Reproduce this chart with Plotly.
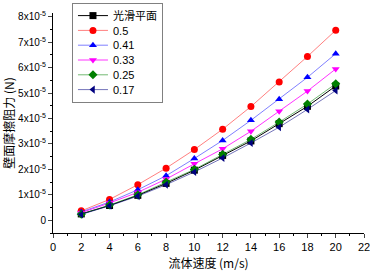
import plotly.graph_objects as go

speed = [2, 4, 6, 8, 10, 12, 14, 16, 18, 20]
# wall friction force, in units of 1e-5 N
smooth = [0.25, 0.58, 0.98, 1.45, 1.97, 2.55, 3.12, 3.80, 4.48, 5.28]
r050 = [0.37, 0.82, 1.40, 2.05, 2.78, 3.58, 4.47, 5.44, 6.44, 7.47]
r041 = [0.33, 0.72, 1.20, 1.75, 2.43, 3.14, 3.93, 4.76, 5.62, 6.55]
r033 = [0.30, 0.68, 1.10, 1.62, 2.22, 2.81, 3.50, 4.29, 5.08, 5.95]
r025 = [0.24, 0.60, 1.00, 1.50, 2.00, 2.59, 3.18, 3.86, 4.57, 5.37]
r017 = [0.23, 0.57, 0.95, 1.40, 1.90, 2.45, 3.04, 3.66, 4.36, 5.10]

names = ["光滑平面", "0.5", "0.41", "0.33", "0.25", "0.17"]
series = [smooth, r050, r041, r033, r025, r017]
marker_colors = ["#000000", "#ff0000", "#0000ff", "#ff00ff", "#008000", "#000080"]
line_colors = ["#000000", "rgba(255,0,0,0.5)", "rgba(0,0,255,0.5)", "rgba(255,0,255,0.8)",
               "rgba(0,128,0,0.55)", "rgba(0,0,128,0.55)"]
symbols = ["square", "circle", "triangle-up", "triangle-down", "diamond", "triangle-left"]

ytick_vals = [0, 1, 2, 3, 4, 5, 6, 7, 8]
ytick_text = ["0"] + [f"{v}x10<sup>-5</sup>" for v in ytick_vals[1:]]
xtick_vals = [0, 2, 4, 6, 8, 10, 12, 14, 16, 18, 20, 22]

fig = go.Figure()
for nm, ys, mc, lc, sym in zip(names, series, marker_colors, line_colors, symbols):
    fig.add_trace(go.Scatter(
        x=speed, y=ys, name=nm, mode="lines+markers",
        line=dict(color=lc, width=1),
        marker=dict(symbol=sym, color=mc, size=7, line=dict(width=0)),
    ))

font_main = "Liberation Sans, Arial, sans-serif"
fig.update_layout(
    width=370, height=271,
    margin=dict(l=53, r=6, t=13, b=38, autoexpand=False),
    paper_bgcolor="white", plot_bgcolor="white",
    font=dict(family=font_main, size=11, color="black"),
    showlegend=True,
    legend=dict(
        x=0.061, y=1.045, xanchor="left", yanchor="top",
        bordercolor="#808080", borderwidth=1, bgcolor="white",
        font=dict(size=11, family="Liberation Sans, Noto Sans CJK SC, sans-serif"),
        itemwidth=30, tracegroupgap=0,
    ),
    xaxis=dict(
        range=[0, 22], tickvals=xtick_vals, ticks="outside", ticklen=4,
        showline=True, linecolor="black", linewidth=1, mirror=False,
        showgrid=False, zeroline=False, automargin=False,
        ticklabeloverflow="allow",
        minor=dict(dtick=1, ticks="outside", ticklen=2, tickcolor="black"),
        title=dict(text="流体速度 (m/s)", font=dict(size=12, family="Noto Sans CJK SC, Liberation Sans"), standoff=9),
        tickfont=dict(size=11),
    ),
    yaxis=dict(
        range=[-0.5, 8.15], tickvals=ytick_vals, ticktext=ytick_text,
        ticks="outside", ticklen=4,
        showline=True, linecolor="black", linewidth=1,
        showgrid=False, zeroline=False, automargin=False,
        minor=dict(dtick=0.5, ticks="outside", ticklen=2, tickcolor="black"),
        title=dict(text="壁面摩擦阻力 (N)", font=dict(size=12, family="Noto Sans CJK SC, Liberation Sans"), standoff=2),
        tickfont=dict(size=10),
    ),
)

post = """
document.body.style.margin='0';document.body.style.overflow='hidden';
var gd=document.getElementById('{plot_id}');
function parseY(t){var m=/translate\\(\\s*([-\\d.]+)[ ,]+([-\\d.]+)/.exec(t.getAttribute('transform')||'');return m?[parseFloat(m[1]),parseFloat(m[2])]:[0,0];}
function fixLegend(){
  var tr=gd.querySelectorAll('g.legend g.traces');
  if(tr.length<2||gd._legendFixed) return;
  var p0=parseY(tr[0]), p1=parseY(tr[1]);
  var d=p1[1]-p0[1], step=14.8, shift=3;
  for(var i=0;i<tr.length;i++){
    var p=parseY(tr[i]);
    tr[i].setAttribute('transform','translate('+p[0]+','+(p0[1]-shift+i*step)+')');
  }
  var bg=gd.querySelector('g.legend rect.bg');
  if(bg){var h=parseFloat(bg.getAttribute('height'));bg.setAttribute('height',h-shift-(tr.length-1)*(d-step)-2);}
  gd._legendFixed=true;
}
fixLegend();
"""
fig.write_html("out.html", post_script=post, config={"displayModeBar": False, "staticPlot": True})
